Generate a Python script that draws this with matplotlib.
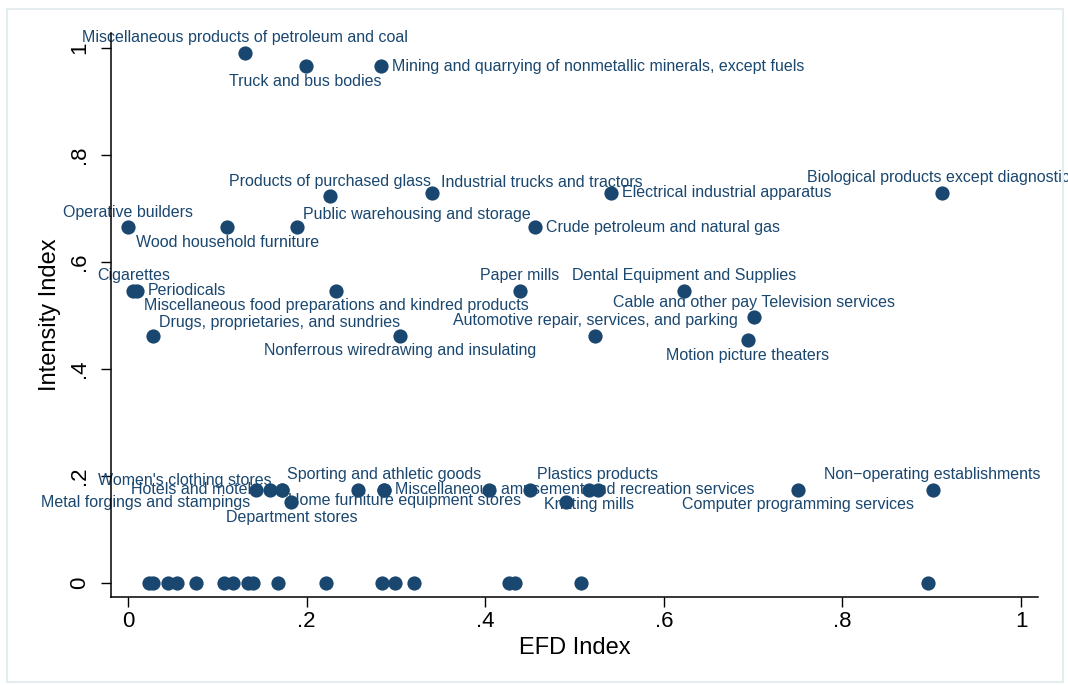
import matplotlib
matplotlib.use("Agg")
import matplotlib.pyplot as plt
from matplotlib.patches import Rectangle

plt.rcParams['font.family'] = ['Liberation Sans', 'DejaVu Sans']

# industries with EFD index (x) and intensity index (y)
names = [
    "Miscellaneous products of petroleum and coal",
    "Truck and bus bodies",
    "Mining and quarrying of nonmetallic minerals, except fuels",
    "Products of purchased glass",
    "Industrial trucks and tractors",
    "Electrical industrial apparatus",
    "Biological products except diagnostics",
    "Operative builders",
    "Wood household furniture",
    "Public warehousing and storage",
    "Crude petroleum and natural gas",
    "Cigarettes",
    "Periodicals",
    "Miscellaneous food preparations and kindred products",
    "Paper mills",
    "Dental Equipment and Supplies",
    "Cable and other pay Television services",
    "Drugs, proprietaries, and sundries",
    "Nonferrous wiredrawing and insulating",
    "Automotive repair, services, and parking",
    "Motion picture theaters",
    "Metal forgings and stampings",
    "Hotels and motels",
    "Women's clothing stores",
    "Home furniture equipment stores",
    "Department stores",
    "",
    "Sporting and athletic goods",
    "Miscellaneous amusement and recreation services",
    "",
    "",
    "Knitting mills",
    "Plastics products",
    "Computer programming services",
    "Non\u2212operating establishments",
] + [""] * 18

efd = [0.131, 0.199, 0.283,
       0.226, 0.340, 0.541, 0.912,
       0.000, 0.111, 0.189, 0.456,
       0.006, 0.010, 0.233, 0.439, 0.623,
       0.701, 0.028, 0.305, 0.523, 0.694,
       0.143, 0.159, 0.172, 0.172, 0.183, 0.258, 0.287, 0.287,
       0.404, 0.450, 0.516, 0.526, 0.750, 0.901,
       0.024, 0.028, 0.045, 0.055, 0.076, 0.108, 0.118, 0.134, 0.140,
       0.168, 0.222, 0.284, 0.299, 0.320, 0.427, 0.433, 0.507, 0.896]

intensity = [0.991, 0.966, 0.966,
             0.723, 0.729, 0.729, 0.729,
             0.665, 0.665, 0.665, 0.665,
             0.546, 0.546, 0.546, 0.546, 0.546,
             0.497, 0.462, 0.462, 0.462, 0.454,
             0.174, 0.174, 0.174, 0.174, 0.151, 0.174, 0.174, 0.174,
             0.174, 0.174, 0.174, 0.174, 0.174, 0.174,
             0, 0, 0, 0, 0, 0, 0, 0, 0,
             0, 0, 0, 0, 0, 0, 0, 0, 0]

# extra points sitting under the bottom labels (unlabeled)
extra_x = [0.490]
extra_y = [0.151]

# label clock positions (Stata mlabvpos style)
label_pos = [12, 6, 3,
             12, 2, 3, 12,
             12, 6, 1, 3,
             12, 3, 6, 12, 12,
             12, 1, 6, 12, 6,
             8, 9, 10, 4, 6, 3, 12, 3,
             3, 3, 6, 12, 6, 12] + [3] * 18

# offsets in pixels for each clock position
clock = {12: (0, 15, 'center'), 6: (0, -15, 'center'),
         3: (11, 0, 'left'), 9: (-11, 0, 'right'),
         1: (6, 13, 'left'), 2: (9, 10, 'left'),
         4: (6, -11, 'left'), 8: (-5, -13, 'right'),
         10: (-10, 9, 'right')}

navy = '#1a476f'

fig = plt.figure(figsize=(10.68, 6.85), dpi=100)
ax = fig.add_axes([111/1068, 1 - 597/685, (1038-111)/1068, (597-33)/685])

ax.scatter(efd + extra_x, intensity + extra_y, s=105, color=navy, zorder=3, linewidths=0)

for name, x, y, p in zip(names, efd, intensity, label_pos):
    if name == "":
        continue
    dx, dy, ha = clock[p]
    ax.annotate(name, (x, y), xytext=(dx * 0.72, dy * 0.72), textcoords='offset points',
                ha=ha, va='center', fontsize=11.5, color=navy, zorder=2,
                annotation_clip=False)

ax.set_xlim(-0.019, 1.019)
ax.set_ylim(-0.026, 1.028)
ax.set_xticks([0, 0.2, 0.4, 0.6, 0.8, 1])
ax.set_xticklabels(["0", ".2", ".4", ".6", ".8", "1"])
ax.set_yticks([0, 0.2, 0.4, 0.6, 0.8, 1])
ax.set_yticklabels(["0", ".2", ".4", ".6", ".8", "1"], rotation=90, va='center')
ax.tick_params(length=7, width=1.0, labelsize=16, color='black')
ax.tick_params(axis='x', pad=3)
ax.tick_params(axis='y', pad=8)

ax.spines['top'].set_visible(False)
ax.spines['right'].set_visible(False)
ax.spines['left'].set_linewidth(1.1)
ax.spines['bottom'].set_linewidth(1.1)

ax.set_xlabel("EFD Index", fontsize=17, labelpad=4)
ax.set_ylabel("Intensity Index", fontsize=17, labelpad=6)

fig.patches.append(Rectangle((7/1068, 1 - 682/685), (1063-7)/1068, (682-9)/685,
                             transform=fig.transFigure, fill=False,
                             edgecolor='#e4ecef', linewidth=1.5))

fig.savefig("out.png", dpi=100)
